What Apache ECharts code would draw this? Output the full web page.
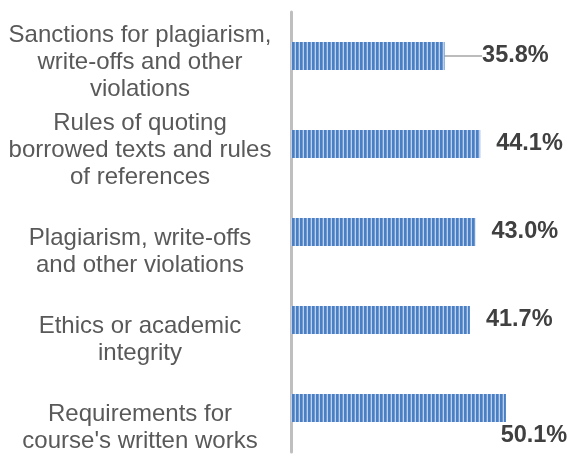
<!DOCTYPE html>
<html>
<head>
<meta charset="utf-8">
<script src="https://cdn.jsdelivr.net/npm/echarts@6/dist/echarts.min.js"></script>
<style>
  html, body { margin: 0; padding: 0; background: #ffffff; }
  #chart { width: 571px; height: 454px; }
</style>
</head>
<body>
<div id="chart"></div>
<script>
// Topics covered, listed top to bottom
var categories = [
  "Sanctions for plagiarism,\nwrite-offs and other\nviolations",
  "Rules of quoting\nborrowed texts and rules\nof references",
  "Plagiarism, write-offs\nand other violations",
  "Ethics or academic\nintegrity",
  "Requirements for\ncourse's written works"
];
// Share of respondents, percent
var values = [35.8, 44.1, 43.0, 41.7, 50.1];

// Narrow vertical stripe fill for the bars
function stripePattern() {
  var c = document.createElement('canvas');
  c.width = 4; c.height = 4;
  var ctx = c.getContext('2d');
  var cols = ['#4a7fc4', '#4a7fc4', '#6e99d3', '#bcd1ee'];
  for (var i = 0; i < 4; i++) {
    ctx.fillStyle = cols[i];
    ctx.fillRect(i, 0, 1, 4);
  }
  return c;
}
var pattern = { image: stripePattern(), repeat: 'repeat' };

var FONT = '"Liberation Sans", Arial, sans-serif';
var LINE = 27;

var seriesData = values.map(function (v, i) {
  var item = { value: v, labelLine: { show: i === 0 } };
  if (i === 0) {
    item.label = { distance: 5, padding: [0, 0, 0, 9] };
  } else if (i === 4) {
    item.label = { distance: 0 };
  }
  return item;
});

var chart = echarts.init(document.getElementById('chart'), null, { renderer: 'canvas' });
chart.setOption({
  animation: false,
  backgroundColor: '#ffffff',
  grid: { left: 291, top: 12, width: 257.4, height: 445, containLabel: false },
  xAxis: {
    type: 'value', min: 0, max: 60, show: false
  },
  yAxis: {
    type: 'category',
    inverse: true,
    data: categories,
    axisLine: { show: true, lineStyle: { color: '#bfbfbf', width: 3 } },
    axisTick: { show: false },
    axisLabel: {
      interval: 0,
      hideOverlap: false,
      margin: 151,
      align: 'center',
      color: '#595959',
      fontFamily: FONT,
      fontSize: 24,
      lineHeight: LINE,
      formatter: function (s) {
        // a spacer line on top lowers each block; two-line blocks sit lower still
        var twoLines = s.split('\n').length === 2;
        return (twoLines ? '{gapL| }' : '{gapS| }') + '\n' + s;
      },
      rich: {
        gapS: { lineHeight: 12, fontSize: 1 },
        gapL: { lineHeight: 12 + LINE, fontSize: 1 }
      }
    }
  },
  series: [{
    type: 'bar',
    data: seriesData,
    barWidth: 28,
    itemStyle: { color: pattern },
    label: {
      show: true,
      position: 'right',
      distance: 16,
      color: '#404040',
      fontFamily: FONT,
      fontWeight: 'bold',
      fontSize: 23.5,
      formatter: function (p) { return p.value.toFixed(1) + '%'; }
    },
    labelLine: { lineStyle: { color: '#a6a6a6', width: 1.5 } },
    labelLayout: function (p) {
      if (p.dataIndex === 0) return { dx: 23.5 };
      if (p.dataIndex === 4) return { dx: -5.3, dy: 27.5 };
      return {};
    }
  }]
});
</script>
</body>
</html>
